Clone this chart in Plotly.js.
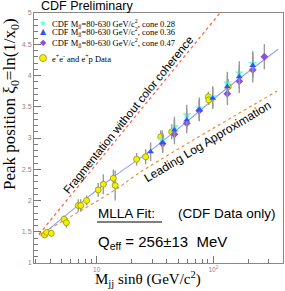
<!DOCTYPE html>
<html><head><meta charset="utf-8">
<script src="https://cdn.plot.ly/plotly-3.0.1.min.js"></script>
<style>body{margin:0;background:#fff}#c{width:285px;height:291px}</style>
</head><body><div id="c"></div>
<script>
// e+e- and e+p data
const eeX = [3.58, 3.72, 4.08, 5.25, 5.5, 6.95, 7.3, 8.2, 10.3, 11.4, 13.9, 14.4, 22.0, 26.3, 35.4, 44.0, 90.6, 91.5, 134.5];
const eeY = [1.45, 1.49, 1.475, 1.70, 1.645, 1.92, 1.92, 2.00, 2.17, 2.26, 2.355, 2.24, 2.66, 2.70, 3.02, 3.10, 3.66, 3.61, 3.82];
const eeErr = [0.05, 0.05, 0.05, 0.06, 0.08, 0.10, 0.10, 0.08, 0.11, 0.16, 0.14, 0.24, 0.10, 0.12, 0.10, 0.12, 0.08, 0.08, 0.12];
// CDF cone 0.28
const c28X = [36.5, 46.4, 59.2, 76.0, 99.0, 132, 167, 218];
const c28Y = [2.97, 3.18, 3.37, 3.48, 3.66, 3.88, 4.04, 4.19];
const c28Err = [0.15, 0.16, 0.16, 0.17, 0.17, 0.18, 0.19, 0.2];
// CDF cone 0.36
const c36X = [29.0, 36.8, 46.4, 59.2, 75.8, 98.8, 132, 167, 218];
const c36Y = [2.78, 2.93, 3.13, 3.29, 3.45, 3.635, 3.82, 3.98, 4.16];
const c36Err = [0.15, 0.15, 0.16, 0.16, 0.17, 0.17, 0.18, 0.19, 0.2];
// CDF cone 0.47
const c47X = [36.8, 46.4, 59.2, 75.8, 132, 167, 218, 274];
const c47Y = [2.91, 3.06, 3.235, 3.44, 3.71, 3.91, 4.09, 4.30];
const c47Err = [0.15, 0.16, 0.16, 0.17, 0.18, 0.19, 0.2, 0.2];
// curves
const fragX = [3.2, 114];
const fragY = [1.46, 5.0];
const llaX = [3.2, 14.4, 23.5, 352];
const llaY = [1.45, 2.17, 2.45, 3.75];
const mllaX = [3.3, 7, 14, 29, 60, 120, 360];
const mllaY = [1.43, 1.93, 2.38, 2.80, 3.27, 3.74, 4.42];
// axis ticks
const xTickVals = [10, 100];
const xTickText = ["10", "10<sup>2</sup>"];
const xMinorVals = [3,4,5,6,7,8,9,20,30,40,50,60,70,80,90,200,300];

const W = 285, H = 291, L = 34, R = 2, T = 13, B = 28;
const pw = W - L - R, ph = H - T - B;
const px = v => (v - L) / pw;
const py = v => (H - B - v) / ph;

const errStyle = arr => ({type:'data', array: arr, visible:true, color:'#999', thickness:1.4, width:0});

const traces = [
  {x: fragX, y: fragY, mode:'lines', line:{color:'#ff5a36', width:1.2, dash:'dot'}, hoverinfo:'skip'},
  {x: llaX, y: llaY, mode:'lines', line:{color:'#e8913a', width:1.2, dash:'dot', shape:'spline'}, hoverinfo:'skip'},
  {x: mllaX, y: mllaY, mode:'lines', line:{color:'#8fa0ff', width:1.1, shape:'spline'}, hoverinfo:'skip'},
  {x: eeX, y: eeY, mode:'markers', error_y: errStyle(eeErr), marker:{symbol:'circle', size:6, color:'#f2f200', line:{color:'#8a8a00', width:0.7}}},
  {x: c28X, y: c28Y, mode:'markers', error_y: errStyle(c28Err), marker:{symbol:'star', size:7, color:'#66ffdd', line:{width:0}}},
  {x: c47X, y: c47Y, mode:'markers', error_y: errStyle(c47Err), marker:{symbol:'diamond', size:6, color:'#8a4fe0', line:{width:0}}},
  {x: c36X, y: c36Y, mode:'markers', error_y: errStyle(c36Err), marker:{symbol:'triangle-up', size:6, color:'#2f52ff', line:{width:0}}}
];

const sans = 'Liberation Sans, Arial, sans-serif';
const serif = 'Liberation Serif, Times New Roman, serif';
const ann = (x, y, text, opts) => Object.assign({xref:'paper', yref:'paper', x: px(x), y: py(y), text, showarrow:false, xanchor:'left', yanchor:'middle', font:{family:sans, size:12, color:'#000'}}, opts||{});

const legFont = {family:serif, size:8.5, color:'#000'};
const annotations = [
  ann(39, 6, 'CDF Preliminary', {font:{family:sans, size:12.5, color:'#000'}}),
  ann(43, 23, '★', {xanchor:'center', font:{family:'DejaVu Sans', size:8.5, color:'#66ffdd'}}),
  ann(43, 32, '▲', {xanchor:'center', font:{family:'DejaVu Sans', size:8, color:'#2f52ff'}}),
  ann(43, 42, '◆', {xanchor:'center', font:{family:'DejaVu Sans', size:8, color:'#8a4fe0'}}),
  ann(50, 23, 'CDF M<sub>jj</sub>=80-630 GeV/c<sup>2</sup>, cone 0.28', {font:legFont}),
  ann(50, 32, 'CDF M<sub>jj</sub>=80-630 GeV/c<sup>2</sup>, cone 0.36', {font:legFont}),
  ann(50, 42, 'CDF M<sub>jj</sub>=80-630 GeV/c<sup>2</sup>, cone 0.47', {font:legFont}),
  ann(50, 58, 'e<sup>+</sup>e<sup>-</sup> and e<sup>+</sup>p Data', {font:legFont}),
  ann(128, 115, 'Fragmentation without color coherence', {xanchor:'center', textangle:-51, font:{family:sans, size:11.5, color:'#000'}}),
  ann(207, 142, 'Leading Log Approximation', {xanchor:'center', textangle:-31, font:{family:sans, size:12, color:'#000'}}),
  ann(96, 213, 'MLLA Fit:', {font:{family:sans, size:13.5, color:'#000'}}),
  ann(176, 213, '(CDF Data only)', {font:{family:sans, size:13.5, color:'#000'}}),
  ann(96, 242, 'Q<sub>eff</sub> = 256±13 \u00a0MeV', {font:{family:sans, size:15, color:'#000'}}),
  ann(148, 279, 'M<sub>jj</sub> sinθ (GeV/c<sup>2</sup>)', {xanchor:'center', font:{family:serif, size:15, color:'#000'}}),
  ann(11, 104, 'Peak position ξ<sub>0</sub>=ln(1/x<sub>0</sub>)', {xanchor:'center', textangle:-90, font:{family:serif, size:17, color:'#000'}})
];

const shapes = [
  {type:'circle', xref:'paper', yref:'paper', x0:px(39.5), x1:px(46.5), y0:py(61.5), y1:py(54.5), fillcolor:'#f2f200', line:{color:'#8a8a00', width:0.7}},
  {type:'line', xref:'paper', yref:'paper', x0:px(97), x1:px(162), y0:py(222), y1:py(222), line:{color:'#000', width:1}}
];

const layout = {
  width: W, height: H,
  margin: {l:L, r:R, t:T, b:B, pad:0},
  paper_bgcolor:'#fff', plot_bgcolor:'#fff',
  showlegend:false,
  xaxis: {type:'log', range:[Math.log10(2.9), Math.log10(396)], showgrid:false, zeroline:false,
    showline:true, mirror:true, linecolor:'#888', linewidth:1,
    tickmode:'array', tickvals:xTickVals, ticktext:xTickText, ticks:'inside', ticklen:7, tickcolor:'#777',
    tickfont:{family:sans, size:6.5, color:'#888'},
    minor:{tickmode:'array', tickvals:xMinorVals, ticks:'inside', ticklen:4, tickcolor:'#777', showgrid:false}},
  yaxis: {range:[1,5], showgrid:false, zeroline:false,
    showline:true, mirror:true, linecolor:'#888', linewidth:1,
    tickmode:'linear', tick0:1, dtick:0.5, ticks:'inside', ticklen:7, tickcolor:'#777',
    tickfont:{family:sans, size:7, color:'#888'},
    minor:{dtick:0.1, ticks:'inside', ticklen:4, tickcolor:'#777', showgrid:false}},
  annotations, shapes
};

Plotly.newPlot('c', traces, layout, {staticPlot:true, displayModeBar:false});
</script>
</body></html>
